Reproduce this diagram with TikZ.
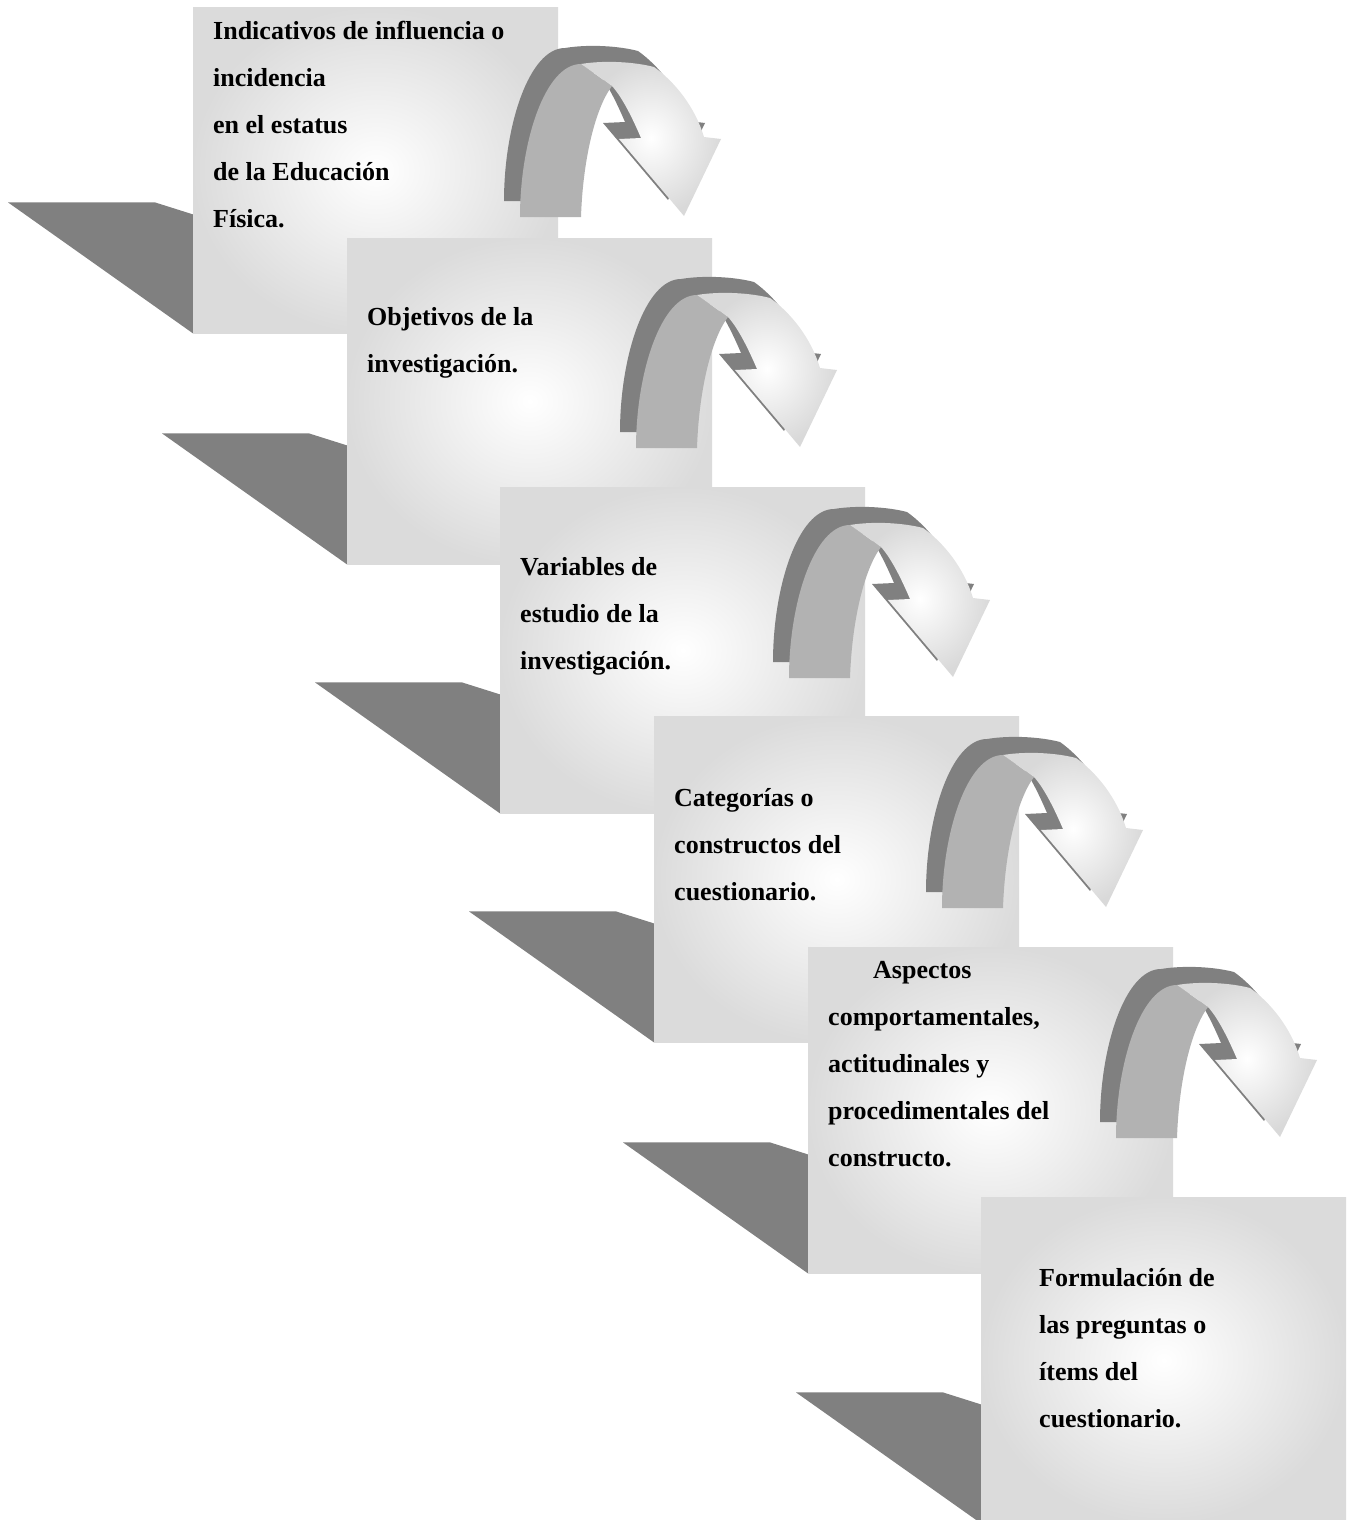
\documentclass[tikz,border=0pt]{standalone}
\usepackage{fontspec}
\setmainfont{Liberation Serif}
\usetikzlibrary{positioning,backgrounds}

\begin{document}
\begin{tikzpicture}[
    x=1pt, y=-1pt,
    box/.style={anchor=north west, minimum width=365pt, minimum height=326pt, inner sep=0pt,
      inner color=white, outer color=gray!28},
    boxtext/.style={anchor=north west, align=left, inner sep=0pt, font=\fontsize{26}{47}\selectfont\bfseries},
    dropshade/.style={fill=gray},
    curvarrow/.pic={
      % back face
      \fill[gray, shift={(-16,-16)}] (0,0) .. controls (0,-75) and (25,-153) .. (61,-153)
        .. controls (85,-157) and (115,-155) .. (134,-150)
        .. controls (155,-135) and (175,-110) .. (184,-80)
        -- (201,-78) -- (164,-1) -- (99,-78) -- (121,-79)
        .. controls (112,-100) and (102,-120) .. (92,-131)
        .. controls (76,-110) and (63,-60) .. (61,0) -- cycle;
      % front face
      \fill[gray!60] (0,0) .. controls (0,-75) and (25,-153) .. (61,-153) -- (92,-131)
        .. controls (76,-110) and (63,-60) .. (61,0) -- cycle;
      \shade[inner color=white, outer color=gray!30] (61,-153)
        .. controls (85,-157) and (115,-155) .. (134,-150)
        .. controls (155,-135) and (175,-110) .. (184,-80)
        -- (201,-78) -- (164,-1) -- (99,-78) -- (121,-79)
        .. controls (112,-100) and (102,-120) .. (92,-131) -- cycle;
    }
  ]
    \useasboundingbox (0,0) rectangle (1353,1520);

    \node[box] (box1) at (193,7) {};
    \node[boxtext, below right=14pt and 20pt of box1.north west] (txt1)
      {Indicativos de influencia o\\incidencia\\en el estatus\\de la Educación\\Física.};
    \pic (arr1) at (520,217) {curvarrow};

    \node[box] (box2) at (347,238) {};
    \node[boxtext, below right=69pt and 20pt of box2.north west] (txt2)
      {Objetivos de la\\investigación.};
    \pic (arr2) at (636,448) {curvarrow};

    \node[box] (box3) at (500,487) {};
    \node[boxtext, below right=70pt and 20pt of box3.north west] (txt3)
      {Variables de\\estudio de la\\investigación.};
    \pic (arr3) at (789,678) {curvarrow};

    \node[box] (box4) at (654,716) {};
    \node[boxtext, below right=72pt and 20pt of box4.north west] (txt4)
      {Categorías o\\constructos del\\cuestionario.};
    \pic (arr4) at (942,908) {curvarrow};

    \node[box] (box5) at (808,947) {};
    \node[boxtext, below right=14pt and 20pt of box5.north west] (txt5)
      {\hspace*{45pt}Aspectos\\comportamentales,\\actitudinales y\\procedimentales del\\constructo.};
    \pic (arr5) at (1116,1138) {curvarrow};

    \node[box] (box6) at (981,1197) {};
    \node[boxtext, below right=71pt and 58pt of box6.north west] (txt6)
      {Formulación de\\las preguntas o\\ítems del\\cuestionario.};

    % shadows behind the boxes
    \begin{scope}[on background layer]
      \fill[dropshade] (box1.south west) -- ++(-185,-131) -- ++(147,0) -- ++(38,12) -- cycle;
      \fill[dropshade] (box2.south west) -- ++(-185,-131) -- ++(147,0) -- ++(38,12) -- cycle;
      \fill[dropshade] (box3.south west) -- ++(-185,-131) -- ++(147,0) -- ++(38,12) -- cycle;
      \fill[dropshade] (box4.south west) -- ++(-185,-131) -- ++(147,0) -- ++(38,12) -- cycle;
      \fill[dropshade] (box5.south west) -- ++(-185,-131) -- ++(147,0) -- ++(38,12) -- cycle;
      \fill[dropshade] (box6.south west) -- ++(-185,-131) -- ++(147,0) -- ++(38,12) -- cycle;
    \end{scope}
  \end{tikzpicture}
\end{document}
